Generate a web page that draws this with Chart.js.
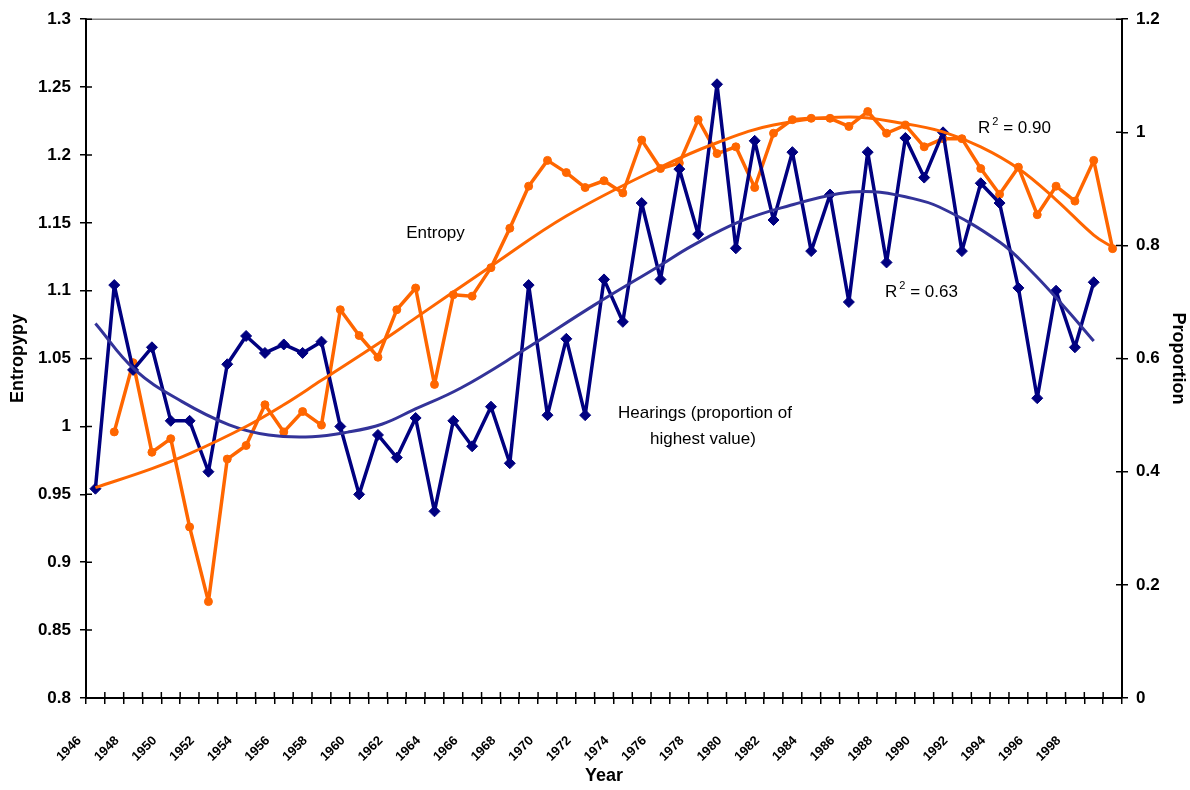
<!DOCTYPE html>
<html lang="en">
<head>
    <meta charset="UTF-8">
    <title>Entropy and Hearings</title>
    <style>
        html, body { margin: 0; padding: 0; background: #fff; }
        #wrap { width: 1190px; height: 790px; }
    </style>
    <script src="https://cdn.jsdelivr.net/npm/chart.js"></script>
</head>
<body>
    <div id="wrap"><canvas id="chart" width="1190" height="790"></canvas></div>

    <script>
        const years = [1946, 1947, 1948, 1949, 1950, 1951, 1952, 1953, 1954, 1955,
            1956, 1957, 1958, 1959, 1960, 1961, 1962, 1963, 1964, 1965,
            1966, 1967, 1968, 1969, 1970, 1971, 1972, 1973, 1974, 1975,
            1976, 1977, 1978, 1979, 1980, 1981, 1982, 1983, 1984, 1985,
            1986, 1987, 1988, 1989, 1990, 1991, 1992, 1993, 1994, 1995,
            1996, 1997, 1998, 1999, 2000];

        // entropy, left axis (no value for 1946)
        const entropy = [null, 0.996, 1.047, 0.981, 0.991, 0.926, 0.871, 0.976, 0.986, 1.016,
            0.996, 1.011, 1.001, 1.086, 1.067, 1.051, 1.086, 1.102, 1.031, 1.097,
            1.096, 1.117, 1.146, 1.177, 1.196, 1.187, 1.176, 1.181, 1.172, 1.211,
            1.190, 1.194, 1.226, 1.201, 1.206, 1.176, 1.216, 1.226, 1.227, 1.227,
            1.221, 1.232, 1.216, 1.222, 1.206, 1.212, 1.212, 1.190, 1.171, 1.191,
            1.156, 1.177, 1.166, 1.196, 1.131];

        // hearings as proportion of highest value, right axis (no value for 2000)
        const hearings = [0.37, 0.73, 0.58, 0.62, 0.49, 0.49, 0.40, 0.59, 0.64, 0.61,
            0.625, 0.61, 0.63, 0.48, 0.36, 0.465, 0.425, 0.495, 0.33, 0.49,
            0.445, 0.515, 0.415, 0.73, 0.50, 0.635, 0.50, 0.74, 0.665, 0.875,
            0.74, 0.935, 0.82, 1.085, 0.795, 0.985, 0.845, 0.965, 0.79, 0.89,
            0.70, 0.965, 0.77, 0.99, 0.92, 1.00, 0.79, 0.91, 0.875, 0.725,
            0.53, 0.72, 0.62, 0.735, null];

        // trend curves
        const entropyTrendYears = [1946, 1949, 1951, 1954, 1956, 1958, 1961, 1963, 1967, 1971,
            1976, 1979, 1982, 1986, 1989, 1991, 1993, 1995, 1997, 1999, 2000];
        const entropyTrend = [0.955, 0.969, 0.980, 1.000, 1.016, 1.034, 1.061, 1.080, 1.118, 1.155,
            1.191, 1.209, 1.222, 1.228, 1.223, 1.217, 1.206, 1.190, 1.167, 1.141, 1.132];

        const hearingsTrendYears = [1946, 1948.1, 1950.6, 1953.1, 1955.2, 1957.5, 1959.4, 1961.2, 1962.8, 1965.4,
            1968.6, 1972.5, 1976, 1977.6, 1980.2, 1982.9, 1985.5, 1987.3, 1989, 1990.8,
            1994, 1995.7, 1997.5, 1999];
        const hearingsTrend = [0.662, 0.580, 0.524, 0.483, 0.465, 0.462, 0.470, 0.484, 0.508, 0.548,
            0.612, 0.695, 0.765, 0.798, 0.842, 0.871, 0.892, 0.895, 0.886, 0.868,
            0.806, 0.754, 0.689, 0.631];

        const notes = [
            { text: 'Entropy', year: 1962.5, value: 1.142, align: 'left' },
            { text: 'Hearings (proportion of', year: 1978.36, value: 1.0094, align: 'center' },
            { text: 'highest value)', year: 1978.25, value: 0.9903, align: 'center' },
            { text: 'R|2| = 0.90', year: 1992.86, value: 1.2195, align: 'left' },
            { text: 'R|2| = 0.63', year: 1987.92, value: 1.0987, align: 'left' }
        ];

        const FONT = "'Liberation Sans', Arial, sans-serif";

        // tick marks that cross the axes, a grey top border and the text notes
        const extras = {
            id: 'extras',
            afterDraw(chart) {
                const ctx = chart.ctx;
                const a = chart.chartArea;
                const yL = chart.scales.yL, yR = chart.scales.yR, xt = chart.scales.xt;
                ctx.save();
                ctx.strokeStyle = '#808080';
                ctx.lineWidth = 1.5;
                ctx.beginPath();
                ctx.moveTo(a.left, a.top);
                ctx.lineTo(a.right, a.top);
                ctx.stroke();

                ctx.strokeStyle = '#000';
                ctx.beginPath();
                const w = a.width / years.length;
                for (let i = 0; i <= years.length; i++) {
                    const px = a.left + i * w;
                    ctx.moveTo(px, a.bottom);
                    ctx.lineTo(px, a.bottom - 6);
                }
                yL.ticks.forEach(t => {
                    const py = yL.getPixelForValue(t.value);
                    ctx.moveTo(a.left, py);
                    ctx.lineTo(a.left + 6, py);
                });
                yR.ticks.forEach(t => {
                    const py = yR.getPixelForValue(t.value);
                    ctx.moveTo(a.right, py);
                    ctx.lineTo(a.right - 6, py);
                });
                ctx.stroke();

                ctx.fillStyle = '#000';
                ctx.textBaseline = 'middle';
                notes.forEach(n => {
                    const x = xt.getPixelForValue(n.year);
                    const y = yL.getPixelForValue(n.value);
                    if (n.text.indexOf('|') >= 0) {
                        const parts = n.text.split('|');
                        ctx.textAlign = 'left';
                        ctx.font = '17px ' + FONT;
                        ctx.fillText(parts[0], x, y);
                        let cx = x + ctx.measureText(parts[0]).width + 2;
                        ctx.font = '11px ' + FONT;
                        ctx.fillText(parts[1], cx, y - 7);
                        cx += ctx.measureText(parts[1]).width;
                        ctx.font = '17px ' + FONT;
                        ctx.fillText(parts[2], cx, y);
                    } else {
                        ctx.textAlign = n.align;
                        ctx.font = '17px ' + FONT;
                        ctx.fillText(n.text, x, y);
                    }
                });
                ctx.restore();
            }
        };

        const tickFont = { family: FONT, size: 17, weight: 'bold' };
        const titleFont = { family: FONT, size: 18, weight: 'bold' };
        const fmt = v => String(Math.round(v * 100) / 100);

        new Chart(document.getElementById('chart'), {
            type: 'line',
            data: {
                labels: years,
                datasets: [
                    {
                        label: 'Entropy trend',
                        data: entropyTrendYears.map((yr, i) => ({ x: yr, y: entropyTrend[i] })),
                        xAxisID: 'xt',
                        yAxisID: 'yL',
                        borderColor: '#FF6600',
                        borderWidth: 3,
                        pointRadius: 0,
                        tension: 0.4,
                        order: 0
                    },
                    {
                        label: 'Hearings trend',
                        data: hearingsTrendYears.map((yr, i) => ({ x: yr, y: hearingsTrend[i] })),
                        xAxisID: 'xt',
                        yAxisID: 'yR',
                        borderColor: '#333399',
                        borderWidth: 3,
                        pointRadius: 0,
                        tension: 0.4,
                        order: 1
                    },
                    {
                        label: 'Hearings',
                        data: hearings,
                        xAxisID: 'x',
                        yAxisID: 'yR',
                        borderColor: '#000080',
                        backgroundColor: '#000080',
                        borderWidth: 3.5,
                        borderJoinStyle: 'round',
                        pointStyle: 'rectRot',
                        pointRadius: 5.5,
                        pointBorderWidth: 1,
                        tension: 0,
                        order: 2
                    },
                    {
                        label: 'Entropy',
                        data: entropy,
                        xAxisID: 'x',
                        yAxisID: 'yL',
                        borderColor: '#FF6600',
                        backgroundColor: '#FF6600',
                        borderWidth: 3.5,
                        borderJoinStyle: 'round',
                        pointStyle: 'circle',
                        pointRadius: 4,
                        pointBorderWidth: 1,
                        tension: 0,
                        order: 3
                    }
                ]
            },
            options: {
                responsive: false,
                animation: false,
                layout: { padding: { top: 15, left: 0, right: 0, bottom: 0 } },
                plugins: { legend: { display: false }, tooltip: { enabled: false } },
                scales: {
                    x: {
                        type: 'category',
                        position: 'bottom',
                        offset: true,
                        grid: { offset: true, drawOnChartArea: false, color: '#000', lineWidth: 1.5, tickLength: 6 },
                        border: { color: '#000', width: 2 },
                        ticks: {
                            autoSkip: false,
                            minRotation: 45,
                            maxRotation: 45,
                            labelOffset: -16,
                            padding: 29,
                            color: '#000',
                            font: { family: FONT, size: 13, weight: 'bold' },
                            callback: (v, i) => (i % 2 === 0 && i < 54) ? String(years[i]) : ''
                        },
                        title: { display: true, text: 'Year', color: '#000', font: titleFont, padding: { top: 0, bottom: 3 } },
                        afterFit: s => { s.height = 92; }
                    },
                    xt: {
                        type: 'linear',
                        display: false,
                        min: 1945.5,
                        max: 2000.5
                    },
                    yL: {
                        type: 'linear',
                        position: 'left',
                        min: 0.8,
                        max: 1.3,
                        grid: { drawOnChartArea: false, color: '#000', lineWidth: 1.5, tickLength: 6 },
                        border: { color: '#000', width: 2 },
                        ticks: { stepSize: 0.05, padding: 9, color: '#000', font: tickFont, callback: fmt },
                        title: { display: true, text: 'Entropypy', color: '#000', font: titleFont, padding: { top: 7, bottom: 0 } },
                        afterFit: s => { s.width = 86; }
                    },
                    yR: {
                        type: 'linear',
                        position: 'right',
                        min: 0,
                        max: 1.2,
                        grid: { drawOnChartArea: false, color: '#000', lineWidth: 1.5, tickLength: 6 },
                        border: { color: '#000', width: 2 },
                        ticks: { stepSize: 0.2, padding: 8, color: '#000', font: tickFont, callback: fmt },
                        title: { display: true, text: 'Proportion', color: '#000', font: titleFont, padding: { top: 1, bottom: 0 } },
                        afterFit: s => { s.width = 68; }
                    }
                }
            },
            plugins: [extras]
        });
    </script>
</body>
</html>
